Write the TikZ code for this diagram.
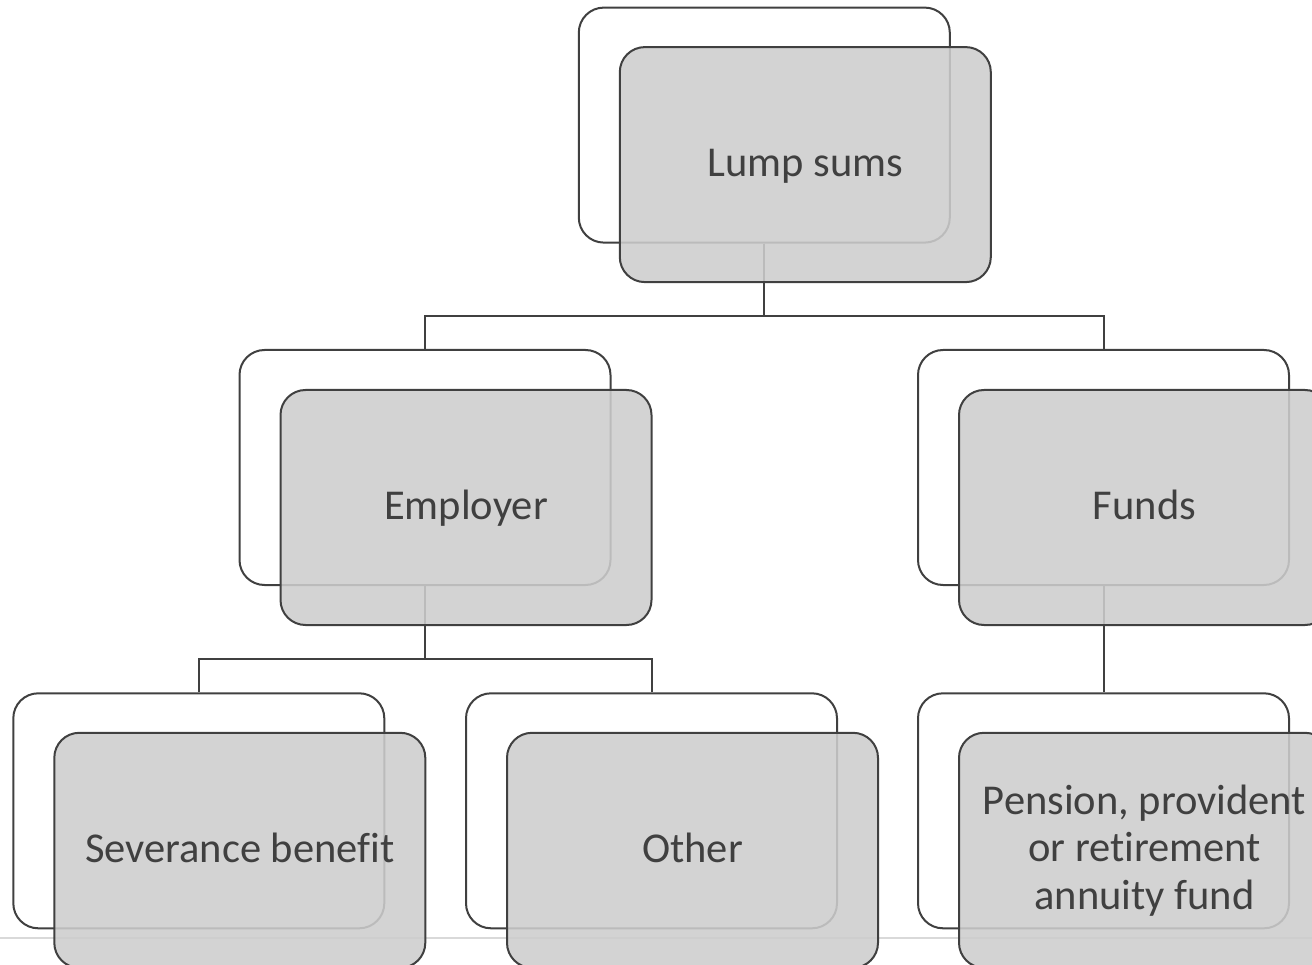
\documentclass[tikz,border=0pt]{standalone}
\usepackage{fontspec}
\setmainfont{Carlito}[Ligatures=NoCommon]
\usetikzlibrary{calc}
\begin{document}
\begin{tikzpicture}[x=1pt,y=-1pt,
  line width=2pt,
  backcard/.style={rectangle, rounded corners=25pt, draw=edgegray, fill=white,
    minimum width=371pt, minimum height=235pt, inner sep=0pt},
  frontcard/.style={rectangle, rounded corners=25pt, draw=edgegray, fill=cardgray,
    fill opacity=0.88, text opacity=1, text=textgray,
    minimum width=371pt, minimum height=235pt, inner sep=0pt,
    font=\fontsize{42.5}{47.5}\selectfont, align=center},
  oneline/.style={text height=34pt, text depth=10.5pt},
  link/.style={draw=edgegray, line width=2pt}]
\definecolor{edgegray}{HTML}{404040}
\definecolor{cardgray}{HTML}{CDCDCD}
\definecolor{textgray}{HTML}{404040}
\definecolor{rulegray}{HTML}{D9D9D9}

\clip (0,0) rectangle (1312,965);
\useasboundingbox (0,0) rectangle (1312,965);

% faint rule along the bottom
\coordinate (ruleL) at (0,938);
\coordinate (ruleR) at (1312,938);
\draw[rulegray, line width=2.5pt] (ruleL) -- (ruleR);

% card centres
\path
  (764.3,125.1) coordinate (lumpC)
  (425,467.5)   coordinate (empC)
  (1103.5,467.5) coordinate (fundsC)
  (198.8,810.8) coordinate (sevC)
  (651.5,810.8) coordinate (othC)
  (1103.5,810.8) coordinate (penC);

\node[backcard] (lumpB)  at (lumpC) {};
\node[backcard] (empB)   at (empC) {};
\node[backcard] (fundsB) at (fundsC) {};
\node[backcard] (sevB)   at (sevC) {};
\node[backcard] (othB)   at (othC) {};
\node[backcard] (penB)   at (penC) {};

% connectors
\coordinate (j1) at (764.3,316);
\coordinate (j2) at (425,659);
\draw[link] (lumpB.south) -- (j1);
\draw[link] (empB.north) |- (j1) -| (fundsB.north);
\draw[link] (empB.south) -- (j2);
\draw[link] (sevB.north) |- (j2) -| (othB.north);
\draw[link] (fundsB.south) -- (penB.north);

% front cards with labels
\node[frontcard, oneline] (lump)  at ($(lumpC)+(41,39.5)$) {Lump sums};
\node[frontcard, oneline] (emp)   at ($(empC)+(41,40)$) {Employer};
\node[frontcard, oneline] (funds) at ($(fundsC)+(41,40)$) {Funds};
\node[frontcard, oneline] (sev)   at ($(sevC)+(41,39.5)$) {Severance benefit};
\node[frontcard, oneline] (oth)   at ($(othC)+(41,39.5)$) {Other};
\node[frontcard] (pen)   at ($(penC)+(41,39.5)$) {Pension, provident\\or retirement\\annuity fund};
\end{tikzpicture}
\end{document}
